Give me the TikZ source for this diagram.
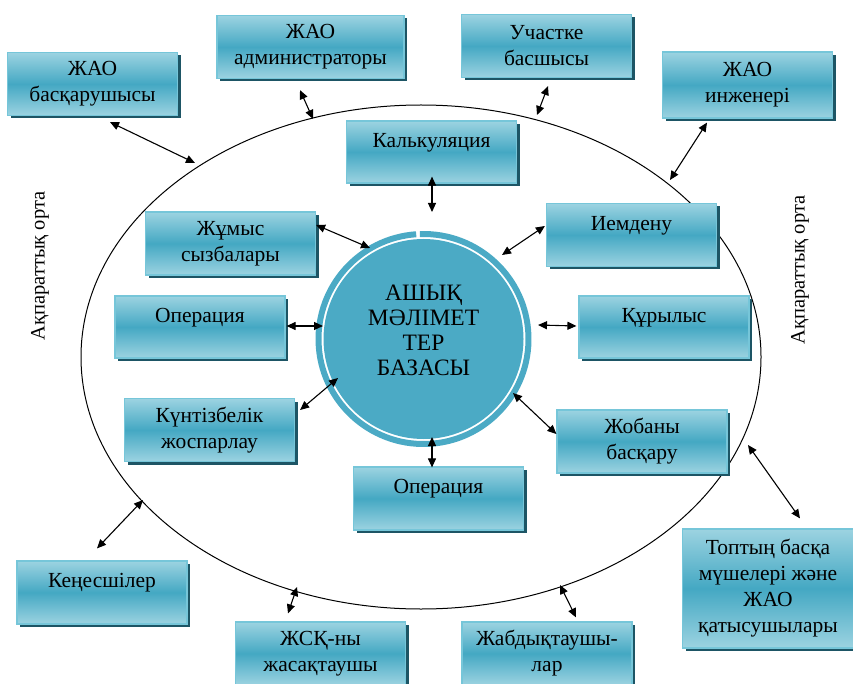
\documentclass[tikz,border=0pt]{standalone}
\usepackage{fontspec}
\setmainfont{Liberation Serif}
\usepackage{tikz}
\usetikzlibrary{%
  positioning,%
  calc,%
  arrows.meta,%
  shadows,%
  shapes.geometric%
}

\definecolor{boxtop}{HTML}{9CD3E1}
\definecolor{boxmid}{HTML}{44A8C3}
\definecolor{boxrim}{HTML}{76C6D9}
\definecolor{boxshade}{HTML}{1D5565}
\definecolor{dbfill}{HTML}{4BAAC5}

\tikzset{
  unit/.style={rectangle, draw=boxrim, line width=1.2pt,
    top color=boxtop, bottom color=boxtop, middle color=boxmid,
    minimum width=170pt, minimum height=63pt, inner sep=2pt, align=center,
    font=\fontsize{21.5}{26}\selectfont,
    drop shadow={shadow xshift=3pt, shadow yshift=-3pt, fill=boxshade, opacity=1}},
  link/.style={{Triangle[length=9pt,width=8pt]}-{Triangle[length=9pt,width=8pt]}, line width=1.1pt},
}

\begin{document}
\begin{tikzpicture}[x=1pt,y=-1pt]
	\useasboundingbox (0,0) rectangle (853,684);
	%Environment
	\node[draw, ellipse, line width=1pt, minimum width=680pt, minimum height=504pt, inner sep=0pt] (env) at (421,357) {};
	\node[rotate=90, font=\fontsize{20.5}{24}\selectfont] (envl) at (40,266) {Ақпараттық орта};
	\node[rotate=90, font=\fontsize{20.5}{24}\selectfont] (envr) at (800,270) {Ақпараттық орта};
	%Database
	\node[circle, fill=dbfill, minimum size=200pt, inner sep=0pt] (db) at (423.5,339) {};
	\draw[dbfill, line width=6pt] (db.center) ++(-92:105) arc(-92:266:105);
	\node[align=center, font=\fontsize{23.5}{25}\selectfont] (dbtext) at (423.5,330) {АШЫҚ\\МӘЛІМЕТ\\ТЕР\\БАЗАСЫ};
	%Nodes
	\node[unit] (basq) at (92.5,84) {ЖАО\\басқарушысы};
	\node[unit, minimum width=187pt] (admin) at (310.5,47) {ЖАО\\администраторы};
	\node[unit] (uch) at (546.5,46) {Участке\\басшысы};
	\node[unit, minimum height=66pt] (inzh) at (747.5,85) {ЖАО\\инженері};
	\node[unit, minimum height=62pt] (kalk) at (431.5,152) {Калькуляция\\[-10pt]\strut};
	\node[unit] (zhum) at (230.5,243.5) {Жұмыс\\сызбалары};
	\node[unit] (iem) at (631.5,235) {Иемдену\\[-10pt]\strut};
	\node[unit, minimum height=62pt] (opl) at (200,327) {Операция\\[-10pt]\strut};
	\node[unit, minimum height=62pt] (kur) at (664,327) {Құрылыс\\[-10pt]\strut};
	\node[unit] (kun) at (209.5,430) {Күнтізбелік\\жоспарлау};
	\node[unit] (zhob) at (642,441.5) {Жобаны\\басқару};
	\node[unit] (opb) at (438.5,498.5) {Операция\\[-10pt]\strut};
	\node[unit] (ken) at (102,592.5) {Кеңесшілер\\[-10pt]\strut};
	\node[unit] (zhsk) at (320.5,653.5) {ЖСҚ-ны\\жасақтаушы};
	\node[unit] (zhab) at (547,653.5) {Жабдықтаушы-\\лар};
	\node[unit, minimum height=119pt, minimum width=171pt] (topt) at (768,588.5) {Топтың басқа\\мүшелері және\\ЖАО\\қатысушылары};
	%Points on the environment
	\coordinate (E1) at (195,163);
	\coordinate (E2) at (313,119);
	\coordinate (E3) at (537,115);
	\coordinate (E4) at (670,180);
	\coordinate (E5) at (143,500);
	\coordinate (E6) at (297,587);
	\coordinate (E7) at (560,585);
	\coordinate (E8) at (748,445);
	%Outer arrows
	\draw
		([shift={(17.5,6)}]basq.south) edge[link] (E1)
		([shift={(-10.5,11)}]admin.south) edge[link] (E2)
		([shift={(1.5,8)}]uch.south) edge[link] (E3)
		([shift={(-40.5,4)}]inzh.south) edge[link] (E4)
		
		([shift={(-5,-12)}]ken.north) edge[link] (E5)
		([shift={(-32.5,-8)}]zhsk.north) edge[link] (E6)
		([shift={(29,-4)}]zhab.north) edge[link] (E7)
		([shift={(32,-10)}]topt.north) edge[link] (E8)
	;
	%Inner arrows
	\draw
		([shift={(0.5,-7)}]kalk.south) edge[link] ([shift={(8.5,-127)}]db.center)
		([shift={(0,-18.5)}]zhum.east) edge[link] ([shift={(-53.5,-91)}]db.center)
		([shift={(-1,-9)}]iem.west) edge[link] ([shift={(78.5,-84)}]db.center)
		([shift={(1,-1)}]opl.east) edge[link] ([shift={(-100.5,-13)}]db.center)
		([shift={(-2,-1)}]kur.west) edge[link] ([shift={(114.5,-14)}]db.center)
		([shift={(5,-20)}]kun.east) edge[link] ([shift={(-85.5,39)}]db.center)
		([shift={(0,-7.5)}]zhob.west) edge[link] ([shift={(89.5,54)}]db.center)
		([shift={(-6.5,1)}]opb.north) edge[link] ([shift={(8.5,98)}]db.center)
	;
\end{tikzpicture}
\end{document}
